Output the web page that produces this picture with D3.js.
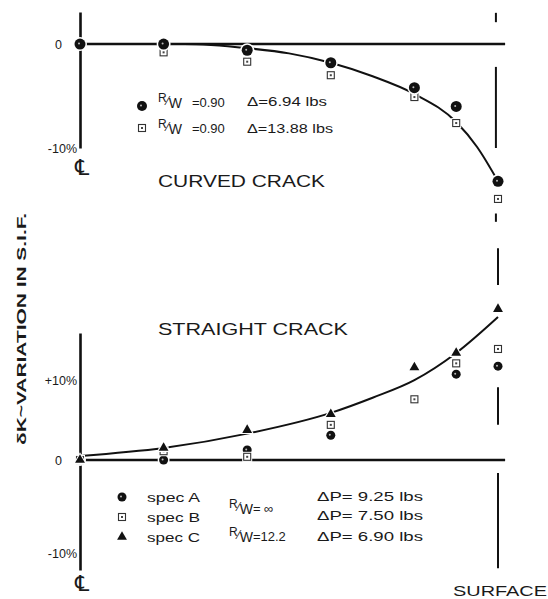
<!DOCTYPE html>
<html>
<head>
<meta charset="utf-8">
<script src="https://cdn.jsdelivr.net/npm/d3@7"></script>
<style>
  body { margin: 0; background: #fff; }
  svg { display: block; }
  text { font-family: "Liberation Sans", Arial, sans-serif; fill: #1a1a1a; }
</style>
</head>
<body>
<div id="chart"></div>
<script>
// positions across the crack front, CL = 0, surface = 1
const posTop = [0, 0.2, 0.4, 0.6, 0.8, 0.9, 1.0];
const curvedA = [0, 0, -0.6, -1.8, -4.2, -6.0, -13.2];   // R/W=0.90, Δ=6.94 lbs
const curvedB = [0, -0.8, -1.7, -3.0, -5.1, -7.6, -14.9]; // R/W=0.90, Δ=13.88 lbs
const curvedFitX = [0, 0.25, 0.4, 0.5, 0.6, 0.7, 0.8, 0.9, 0.95, 1.0];
const curvedFitY = [0, 0, -0.4, -0.9, -1.8, -3.1, -4.8, -7.5, -9.9, -13.2];

const posBot = [0, 0.2, 0.4, 0.6, 0.8, 0.9, 1.0];
const specA = [0, 0, 1.25, 3.1, null, 10.75, 11.75];
const specB = [0, 1.1, 0.4, 4.4, 7.6, 12.1, 13.9];
const specC = [0, 1.5, 3.75, 5.75, 11.6, 13.4, 18.9];
const straightFitX = [0, 0.2, 0.4, 0.6, 0.7, 0.8, 0.9, 1.0];
const straightFitY = [0.5, 1.5, 3.3, 5.9, 7.8, 10.0, 13.4, 17.9];

const topTicks = [0, -10];
const botTicks = [10, 0, -10];
const topTickLabels = ["0", "-10%"];
const botTickLabels = ["+10%", "0", "-10%"];

// surface line pieces (value ranges in each panel)
const surfTop = [[3.0, 2.1], [-2.2, -10], [-16.3, -17.1]];
const surfBot = [[26.5, 21.9], [9.1, 4.4], [-1.4, -11.6]];

const svg = d3.select("#chart").append("svg").attr("width", 548).attr("height", 599);

const x = d3.scaleLinear().domain([0, 1]).range([80, 498]);
const yTop = d3.scaleLinear().domain([-10, 3.08]).range([148, 12]);
const yBot = d3.scaleLinear().domain([-11.8, 0, 15.9]).range([570, 460, 333]);

function drawAxis(y, ticks, labels) {
  const ax = svg.append("g").attr("transform", "translate(" + x(0) + ",0)")
    .call(d3.axisLeft(y).tickValues(ticks).tickSize(0).tickSizeOuter(0).tickPadding(4)
      .tickFormat((d, i) => labels[i]));
  ax.select(".domain").attr("stroke", "#111").attr("stroke-width", 2.6);
  ax.selectAll("text").style("font-size", "12.5px").style("font-family", "Liberation Sans, Arial")
    .attr("fill", "#1a1a1a")
    .attr("x", d => d === 0 ? -18 : -3);
}
drawAxis(yTop, topTicks, topTickLabels);
drawAxis(yBot, botTicks, botTickLabels);

// zero lines
[yTop, yBot].forEach(y => {
  svg.append("line").attr("x1", x(-0.01)).attr("x2", x(1.017))
    .attr("y1", y(0)).attr("y2", y(0)).attr("stroke", "#111").attr("stroke-width", 2.6);
});

// surface line
surfTop.forEach(s => svg.append("line").attr("x1", x(0.995)).attr("x2", x(0.995))
  .attr("y1", yTop(s[0])).attr("y2", yTop(s[1])).attr("stroke", "#111").attr("stroke-width", 2));
surfBot.forEach(s => svg.append("line").attr("x1", x(1.0)).attr("x2", x(1.0))
  .attr("y1", yBot(s[0])).attr("y2", yBot(s[1])).attr("stroke", "#111").attr("stroke-width", 2));

// fitted curves
const lineTop = d3.line().x(d => x(d[0])).y(d => yTop(d[1])).curve(d3.curveMonotoneX);
const lineBot = d3.line().x(d => x(d[0])).y(d => yBot(d[1])).curve(d3.curveMonotoneX);
svg.append("path").attr("d", lineTop(curvedFitX.map((v, i) => [v, curvedFitY[i]])))
  .attr("fill", "none").attr("stroke", "#111").attr("stroke-width", 2);
svg.append("path").attr("d", lineBot(straightFitX.map((v, i) => [v, straightFitY[i]])))
  .attr("fill", "none").attr("stroke", "#111").attr("stroke-width", 2);

// markers
function circ(g, cx, cy, r) {
  g.append("circle").attr("cx", cx).attr("cy", cy).attr("r", r + 1.5).attr("fill", "#fff");
  g.append("circle").attr("cx", cx).attr("cy", cy).attr("r", r).attr("fill", "#111");
  g.append("circle").attr("cx", cx - 1).attr("cy", cy - 0.5).attr("r", 1).attr("fill", "#bbb");
}
function sq(g, cx, cy) {
  g.append("rect").attr("x", cx - 5).attr("y", cy - 5).attr("width", 10).attr("height", 10).attr("fill", "#fff");
  g.append("rect").attr("x", cx - 3.5).attr("y", cy - 3.5).attr("width", 7).attr("height", 7)
    .attr("fill", "#fff").attr("stroke", "#333").attr("stroke-width", 1.1);
  g.append("rect").attr("x", cx - 1).attr("y", cy - 1).attr("width", 2).attr("height", 2).attr("fill", "#444");
}
function tri(g, cx, cy) {
  g.append("path").attr("transform", "translate(" + cx + "," + cy + ")")
    .attr("d", d3.symbol(d3.symbolTriangle, 80)()).attr("fill", "#fff");
  g.append("path").attr("transform", "translate(" + cx + "," + cy + ")")
    .attr("d", d3.symbol(d3.symbolTriangle, 42)()).attr("fill", "#111");
}
const mk = svg.append("g");
posTop.forEach((p, i) => sq(mk, x(p), yTop(curvedB[i])));
posTop.forEach((p, i) => circ(mk, x(p), yTop(curvedA[i]), 5.5));
posBot.forEach((p, i) => { if (specA[i] !== null) circ(mk, x(p), yBot(specA[i]), 4.5); });
posBot.forEach((p, i) => sq(mk, x(p), yBot(specB[i])));
posBot.forEach((p, i) => tri(mk, x(p), yBot(specC[i])));

// text
function txt(s, tx, ty, size, opts) {
  const t = svg.append("text").attr("x", tx).attr("y", ty).style("font-size", size + "px").text(s);
  if (opts && opts.len) t.attr("textLength", opts.len).attr("lengthAdjust", "spacingAndGlyphs");
  if (opts && opts.anchor) t.attr("text-anchor", opts.anchor);
  if (opts && opts.bold) t.style("font-weight", "bold");
  return t;
}
// R/W ratio label: raised R, slash, lowered W, then the value
function rw(tx, ty, gap, rest) {
  const t = svg.append("text").attr("x", tx).attr("y", ty - 5).style("font-size", "12px");
  t.append("tspan").text("R");
  t.append("tspan").attr("dy", 3).text("⁄");
  t.append("tspan").attr("dy", 3).style("font-size", "14px").text("W");
  t.append("tspan").attr("dy", -1).attr("dx", gap).style("font-size", "13px").text(rest);
}

// top legend
circ(svg, 142, 106, 5);
sq(svg, 142, 128);
rw(158, 107, 10, "=0.90");
txt("Δ=6.94 lbs", 247, 106, 13, { len: 80 });
rw(158, 133, 10, "=0.90");
txt("Δ=13.88 lbs", 247, 133, 13, { len: 86 });

txt("CURVED CRACK", 158, 187, 17, { len: 167 });
txt("STRAIGHT CRACK", 158, 335, 17, { len: 190 });
txt("SURFACE", 453, 596, 15, { len: 94 });

// bottom legend
circ(svg, 122, 497, 4.5);
sq(svg, 122, 517);
tri(svg, 122, 537);
txt("spec  A", 147, 502, 13, { len: 53 });
txt("spec  B", 147, 522, 13, { len: 53 });
txt("spec  C", 147, 542, 13, { len: 53 });
rw(229, 513, 0, "= ∞");
rw(229, 541, 0, "=12.2");
txt("ΔP= 9.25 lbs", 317, 501, 13, { len: 106 });
txt("ΔP= 7.50 lbs", 317, 520, 13, { len: 106 });
txt("ΔP= 6.90 lbs", 317, 541, 13, { len: 106 });

// centre line symbols
[175, 591].forEach(cy => {
  svg.append("text").attr("x", 82).attr("y", cy).attr("text-anchor", "middle")
    .style("font-family", "DejaVu Sans").style("font-size", "22px").text("℄");
});

// y label
svg.append("text").attr("transform", "translate(26,329) rotate(-90)")
  .attr("text-anchor", "middle").style("font-size", "13px").style("font-weight", "bold")
  .attr("textLength", 232).attr("lengthAdjust", "spacingAndGlyphs")
  .text("δK~VARIATION IN S.I.F.");
</script>
</body>
</html>
